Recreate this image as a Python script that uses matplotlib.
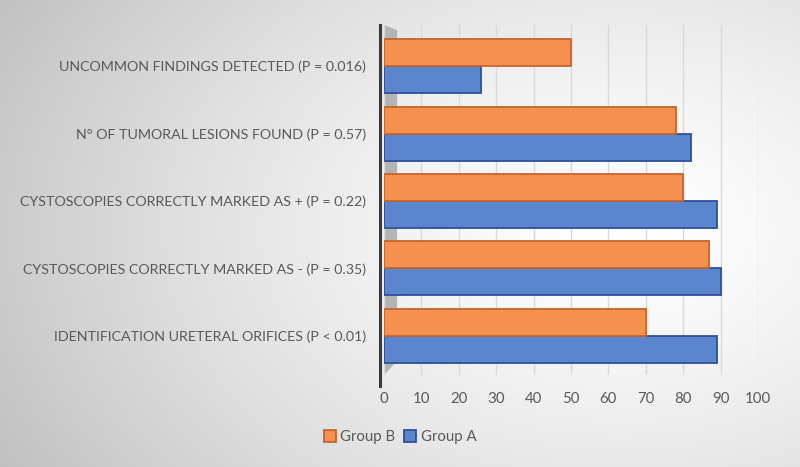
import numpy as np
import matplotlib.pyplot as plt
from matplotlib.patches import Polygon

# categories bottom -> top
categories = ['IDENTIFICATION URETERAL ORIFICES (P < 0.01)',
              'CYSTOSCOPIES CORRECTLY MARKED AS - (P = 0.35)',
              'CYSTOSCOPIES CORRECTLY MARKED AS + (P = 0.22)',
              'N° OF TUMORAL LESIONS FOUND (P = 0.57)',
              'UNCOMMON FINDINGS DETECTED (P = 0.016)']
group_a = [89, 90, 89, 82, 26]
group_b = [70, 87, 80, 78, 50]
xticks = [0, 10, 20, 30, 40, 50, 60, 70, 80, 90, 100]

plt.rcParams['font.family'] = ['Lato', 'DejaVu Sans']

fig = plt.figure(figsize=(8, 4.67), dpi=100)

# radial gradient background
bg = fig.add_axes([0, 0, 1, 1], zorder=-10)
yy, xx = np.mgrid[0:467, 0:800]
d = np.sqrt(((xx - 620) / 700.0) ** 2 + ((yy - 230) / 480.0) ** 2)
val = np.clip(1 - 0.24 * d ** 1.4, 0, 1)
bg.imshow(np.dstack([val, val, val]), aspect='auto', extent=[0, 1, 0, 1])
bg.set_axis_off()

ax = fig.add_axes([384 / 800, 1 - 375 / 467, 374 / 800, 350 / 467])
ax.patch.set_alpha(0)

y = np.arange(len(categories))
h = 0.4
ax.barh(y - h / 2, group_a, height=h, color='#5B86CE', edgecolor='#2E509A',
        linewidth=1.3, label='Group A', zorder=3)
ax.barh(y + h / 2, group_b, height=h, color='#F4914E', edgecolor='#C5642C',
        linewidth=1.3, label='Group B', zorder=3)

ax.set_xlim(0, 100)
ax.set_ylim(-0.58, 4.61)
ax.set_xticks(xticks)
ax.set_xticklabels([str(t) for t in xticks])
ax.set_yticks(y)
ax.set_yticklabels(categories)
ax.tick_params(axis='x', length=0, pad=12, labelsize=10.8, colors='#595959')
ax.tick_params(axis='y', length=0, pad=13, labelsize=10.3, colors='#595959')
ax.grid(axis='x', color='#d9d9d9', linewidth=1, zorder=0)
for s in ax.spines.values():
    s.set_visible(False)

# 3D-like left wall
wall = Polygon([[0, 1], [0.035, 0.985], [0.035, 0.04], [0, 0]],
               closed=True, transform=ax.transAxes, facecolor='#b4b4b4',
               edgecolor='none', zorder=1, clip_on=False)
ax.add_patch(wall)
ax.plot([-0.012, -0.012], [1.0, -0.03], transform=ax.transAxes,
        color='#3a3a3a', linewidth=2.2, clip_on=False, zorder=4)

handles, labels = ax.get_legend_handles_labels()
fig.legend(handles[::-1], labels[::-1], loc='center', bbox_to_anchor=(0.5, 1 - 437 / 467),
           ncol=2, frameon=False, fontsize=10.8, handlelength=0.8, handleheight=0.8,
           handletextpad=0.3, columnspacing=0.6, labelcolor='#595959')

fig.savefig('out.png', dpi=100)
